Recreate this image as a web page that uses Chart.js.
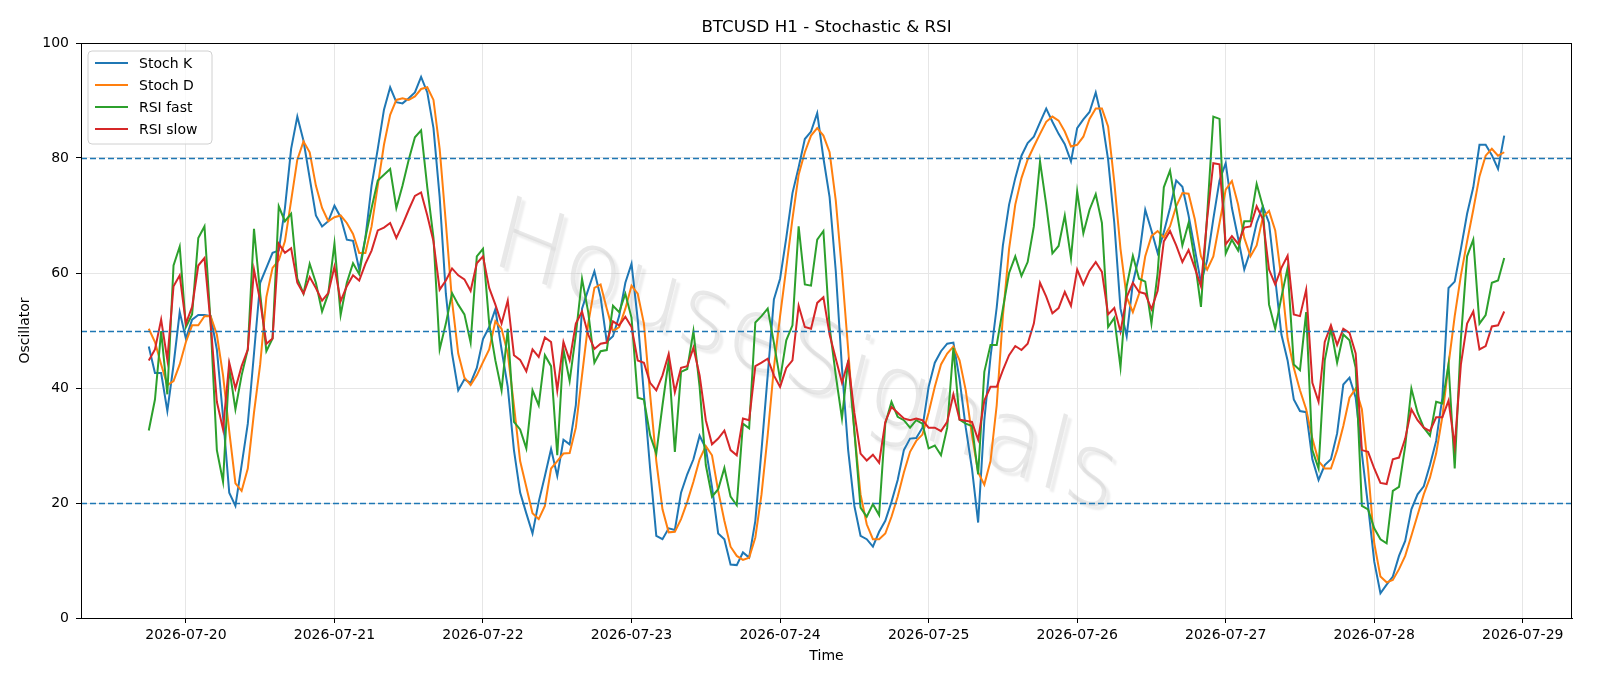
<!DOCTYPE html>
<html>
<head>
<meta charset="utf-8">
<script src="https://cdn.jsdelivr.net/npm/chart.js@4.4.1/dist/chart.umd.min.js"></script>
<style>
  html, body { margin: 0; padding: 0; background: #fff; }
  #wrap { width: 1600px; height: 686px; }
</style>
</head>
<body>
<div id="wrap"><canvas id="osc" width="1600" height="686"></canvas></div>
<script>
// hourly bars, first one at 2026-07-19 18:00 (hour -6 relative to 2026-07-20 00:00)
const FIRST_HOUR = -6;
const dateTicks = ['2026-07-20', '2026-07-21', '2026-07-22', '2026-07-23', '2026-07-24',
                   '2026-07-25', '2026-07-26', '2026-07-27', '2026-07-28', '2026-07-29'];
const yTicks = [0, 20, 40, 60, 80, 100];
const levels = [20, 50, 80];

const stochK = [
  47.2, 42.6, 42.6, 36.0, 44.0, 53.2, 48.6, 51.9, 52.7, 52.7,
  52.5, 46.7, 35.0, 21.8, 19.5, 26.6, 33.8, 46.0, 58.3, 60.9,
  63.5, 63.9, 71.3, 81.6, 87.2, 83.0, 76.5, 70.0, 68.1, 69.0,
  71.7, 69.7, 65.8, 65.6, 60.6, 66.1, 75.2, 81.6, 88.4, 92.3,
  89.7, 89.5, 90.4, 91.4, 94.1, 91.4, 85.2, 73.2, 56.4, 46.0,
  39.6, 41.5, 40.9, 43.5, 48.5, 50.6, 53.7, 46.7, 40.2, 29.2,
  21.8, 18.2, 14.7, 20.2, 24.7, 29.4, 24.7, 31.0, 30.2, 37.0,
  53.8, 57.1, 60.3, 55.8, 48.0, 49.0, 52.5, 58.3, 61.6, 51.9,
  38.9, 26.0, 14.3, 13.7, 15.6, 15.3, 21.8, 25.0, 27.6, 31.7,
  29.5, 22.8, 14.7, 13.7, 9.3, 9.2, 11.4, 10.5, 16.9, 29.2,
  42.2, 55.4, 59.0, 66.1, 73.9, 78.4, 83.3, 84.6, 87.8, 80.0,
  73.2, 60.3, 43.5, 29.2, 19.5, 14.3, 13.7, 12.4, 15.0, 16.9,
  20.2, 24.0, 29.2, 31.2, 31.3, 33.1, 40.2, 44.4, 46.4, 47.7,
  47.9, 41.5, 33.1, 26.0, 16.6, 34.4, 45.4, 54.0, 64.8, 71.9,
  76.5, 80.4, 82.6, 83.7, 86.2, 88.6, 86.3, 84.2, 82.4, 79.4,
  85.2, 86.7, 88.0, 91.4, 86.8, 79.7, 68.7, 53.8, 49.0, 58.3,
  62.9, 71.0, 67.4, 63.5, 67.1, 71.3, 76.1, 75.0, 70.0, 64.2,
  58.3, 62.2, 69.4, 76.1, 79.1, 71.3, 66.1, 60.6, 63.9, 68.7,
  71.6, 68.7, 59.0, 49.3, 44.8, 38.0, 36.0, 35.8, 27.6, 24.0,
  26.6, 27.6, 32.1, 40.6, 41.8, 38.3, 28.6, 19.5, 9.8, 4.3,
  5.8, 7.2, 10.8, 13.4, 18.9, 21.5, 22.9, 26.6, 30.8, 38.3,
  57.4, 58.5, 64.2, 70.3, 74.9, 82.3, 82.3, 80.5, 78.1, 83.9
];

const stochD = [
  50.3, 48.0, 44.1, 40.5, 41.2, 44.1, 48.0, 50.9, 50.9, 52.5,
  52.5, 49.3, 42.2, 32.5, 23.4, 22.1, 26.0, 35.7, 44.1, 55.8,
  60.9, 62.2, 65.5, 72.6, 79.7, 82.9, 81.0, 75.2, 71.3, 69.0,
  69.7, 70.0, 68.7, 66.8, 63.5, 63.5, 68.1, 75.2, 82.3, 87.5,
  90.1, 90.4, 90.1, 90.7, 92.0, 92.3, 90.1, 81.6, 68.7, 55.1,
  46.0, 41.8, 40.5, 42.2, 44.5, 46.7, 51.6, 50.3, 46.0, 37.0,
  27.3, 22.8, 18.2, 17.2, 19.5, 26.0, 27.3, 28.6, 28.7, 33.1,
  42.2, 51.2, 57.4, 58.0, 53.8, 49.9, 50.6, 53.8, 57.8, 56.4,
  51.2, 38.9, 27.3, 18.9, 14.9, 15.0, 17.2, 20.2, 23.7, 27.6,
  29.9, 28.3, 22.1, 16.9, 12.4, 10.8, 10.1, 10.5, 14.0, 21.5,
  31.8, 43.5, 52.5, 60.9, 69.4, 77.1, 81.0, 83.9, 85.2, 83.9,
  81.0, 72.6, 60.3, 46.7, 32.5, 21.5, 16.3, 13.7, 13.7, 14.7,
  17.6, 21.1, 25.3, 28.9, 30.8, 31.9, 35.7, 40.2, 44.1, 46.0,
  47.2, 44.8, 39.6, 31.8, 25.3, 23.2, 27.3, 37.0, 52.5, 64.2,
  71.9, 76.5, 79.7, 82.0, 84.2, 86.3, 87.2, 86.5, 84.6, 82.0,
  82.3, 83.7, 86.8, 88.6, 88.6, 85.5, 75.8, 64.2, 55.8, 53.2,
  56.4, 62.9, 66.4, 67.3, 66.2, 68.1, 71.6, 73.9, 73.8, 69.4,
  62.9, 60.6, 62.9, 68.7, 74.5, 76.0, 71.9, 66.1, 62.9, 64.8,
  69.7, 70.8, 67.4, 59.0, 48.6, 43.5, 39.6, 36.3, 31.2, 27.3,
  26.0, 26.0, 29.2, 33.4, 38.3, 39.9, 36.3, 26.0, 13.0, 7.2,
  6.2, 6.6, 8.5, 10.8, 14.3, 17.9, 21.5, 24.4, 28.6, 35.0,
  44.1, 52.5, 59.6, 65.5, 71.0, 76.8, 80.4, 81.6, 80.4, 81.0
];

const rsiFast = [
  32.6, 38.0, 49.9, 38.9, 61.3, 64.6, 50.6, 52.8, 66.1, 68.1,
  51.2, 29.2, 23.7, 43.5, 36.3, 42.2, 46.7, 67.7, 56.4, 46.4,
  48.6, 71.6, 69.0, 70.3, 59.0, 56.4, 61.6, 58.3, 53.3, 56.4,
  65.1, 52.7, 58.3, 61.7, 59.8, 66.1, 71.3, 76.1, 77.1, 78.1,
  71.3, 75.2, 79.7, 83.6, 84.8, 74.9, 66.1, 46.7, 51.2, 56.5,
  54.5, 52.8, 47.9, 62.9, 64.2, 51.2, 44.8, 39.6, 50.3, 34.1,
  32.8, 29.5, 39.6, 37.0, 45.7, 43.8, 28.3, 46.7, 41.2, 49.3,
  59.0, 53.2, 44.4, 46.4, 46.6, 54.3, 53.2, 56.4, 52.2, 38.3,
  38.0, 31.8, 28.6, 37.0, 44.8, 28.9, 42.8, 43.3, 49.9, 40.2,
  26.6, 21.1, 22.4, 26.1, 21.1, 19.6, 33.8, 33.0, 51.4, 52.5,
  53.8, 47.9, 41.5, 48.3, 50.9, 68.1, 58.0, 57.8, 65.8, 67.3,
  50.6, 42.2, 34.7, 44.8, 32.5, 19.2, 17.6, 19.8, 17.9, 33.8,
  37.6, 35.0, 34.4, 33.1, 34.4, 33.8, 29.5, 30.0, 28.3, 33.1,
  47.0, 34.5, 33.8, 33.4, 25.0, 42.8, 47.5, 47.5, 53.8, 60.0,
  62.9, 59.5, 61.9, 68.1, 79.4, 71.9, 63.4, 64.7, 70.0, 62.6,
  74.2, 66.9, 71.0, 73.7, 68.7, 50.6, 52.2, 43.6, 57.7, 63.0,
  59.0, 58.5, 51.2, 60.0, 74.9, 77.8, 71.3, 64.8, 68.7, 62.2,
  54.1, 70.0, 87.2, 86.8, 63.4, 65.8, 63.9, 69.0, 69.0, 75.5,
  71.6, 54.5, 50.3, 55.8, 60.9, 44.1, 43.1, 53.2, 29.2, 26.0,
  44.8, 50.3, 44.4, 49.3, 48.3, 43.5, 19.5, 18.9, 15.6, 13.7,
  13.0, 22.1, 22.8, 29.9, 39.9, 35.7, 33.1, 31.7, 37.6, 37.3,
  44.1, 26.0, 48.6, 62.9, 65.8, 51.2, 52.7, 58.3, 58.7, 62.6
];

const rsiSlow = [
  44.8, 46.7, 51.9, 44.9, 57.7, 59.6, 51.2, 54.1, 61.3, 62.6,
  51.2, 37.6, 32.8, 44.4, 39.9, 43.8, 46.7, 60.6, 55.1, 47.7,
  48.6, 65.1, 63.5, 64.3, 58.3, 56.4, 59.3, 57.4, 55.2, 56.5,
  61.1, 55.1, 57.7, 59.6, 58.7, 61.6, 63.9, 67.4, 67.9, 68.7,
  66.1, 68.4, 71.0, 73.4, 74.0, 70.0, 65.5, 57.1, 58.7, 60.8,
  59.6, 58.9, 56.9, 61.7, 62.9, 57.4, 54.5, 51.2, 55.2, 45.7,
  44.9, 42.9, 46.7, 45.4, 48.8, 48.0, 39.6, 48.0, 44.8, 51.2,
  53.3, 49.3, 46.8, 47.7, 47.9, 51.6, 50.9, 52.4, 50.6, 44.8,
  44.4, 40.9, 39.6, 42.2, 45.9, 39.3, 43.5, 43.8, 47.0, 42.2,
  34.4, 30.2, 31.2, 32.6, 29.2, 28.3, 34.7, 34.4, 43.8, 44.4,
  45.1, 42.2, 40.2, 43.5, 44.8, 54.3, 50.6, 50.3, 54.8, 55.8,
  49.3, 45.1, 40.9, 44.6, 35.7, 28.6, 27.4, 28.4, 27.0, 34.1,
  36.7, 35.7, 34.7, 34.4, 34.7, 34.4, 33.1, 33.1, 32.5, 34.1,
  38.9, 34.5, 34.3, 34.1, 31.0, 37.8, 40.2, 40.2, 43.1, 45.7,
  47.3, 46.6, 47.7, 51.2, 58.3, 55.9, 53.0, 53.9, 56.7, 54.3,
  60.6, 58.0, 60.4, 61.9, 60.2, 52.8, 53.9, 49.8, 55.8, 58.3,
  56.7, 56.4, 53.7, 56.9, 65.5, 67.3, 64.8, 61.9, 64.0, 60.9,
  57.7, 69.4, 79.1, 78.9, 65.0, 66.4, 65.1, 67.9, 68.1, 71.6,
  69.4, 60.6, 58.0, 60.9, 63.0, 52.8, 52.5, 57.1, 40.9, 37.6,
  48.0, 50.9, 47.5, 50.3, 49.6, 46.0, 29.2, 28.9, 26.0, 23.5,
  23.3, 27.6, 27.9, 31.2, 36.3, 34.4, 33.1, 32.5, 34.9, 34.9,
  37.8, 29.9, 44.1, 51.2, 53.3, 46.7, 47.3, 50.7, 50.9, 53.3
];

const FONT = 'DejaVu Sans, sans-serif';
const COLORS = { k: '#1f77b4', d: '#ff7f0e', fast: '#2ca02c', slow: '#d62728' };

const toPoints = (arr) => arr.map((y, i) => ({ x: FIRST_HOUR + i, y }));

const series = [
  { label: 'Stoch K', data: stochK, color: COLORS.k },
  { label: 'Stoch D', data: stochD, color: COLORS.d },
  { label: 'RSI fast', data: rsiFast, color: COLORS.fast },
  { label: 'RSI slow', data: rsiSlow, color: COLORS.slow },
];

// titles, watermark, level lines, legend and the closed frame
const decor = {
  id: 'decor',
  beforeDatasetsDraw(chart) {
    const { ctx, chartArea: a } = chart;
    ctx.save();
    ctx.beginPath();
    ctx.rect(a.left, a.top, a.right - a.left, a.bottom - a.top);
    ctx.clip();
    const ang = 22 * Math.PI / 180, sl = 14 * Math.PI / 180;
    ctx.setTransform(Math.cos(ang), Math.sin(ang), -Math.sin(sl), Math.cos(sl), 805, 362);
    ctx.font = '200 100px ' + FONT;
    ctx.textAlign = 'center';
    ctx.textBaseline = 'middle';
    ctx.shadowColor = 'rgba(0,0,0,0.16)';
    ctx.shadowOffsetX = 4;
    ctx.shadowOffsetY = 4;
    ctx.shadowBlur = 2;
    ctx.fillStyle = 'rgba(205,205,205,0.45)';
    ctx.fillText('HouseSignals', 0, 0);
    ctx.restore();
  },
  afterDatasetsDraw(chart) {
    const { ctx, chartArea: a, scales: { y } } = chart;
    ctx.save();
    ctx.strokeStyle = COLORS.k;
    ctx.lineWidth = 1.5;
    ctx.setLineDash([6, 3]);
    levels.forEach(v => {
      const py = Math.round(y.getPixelForValue(v)) + 0.5;
      ctx.beginPath();
      ctx.moveTo(a.left, py);
      ctx.lineTo(a.right, py);
      ctx.stroke();
    });
    ctx.restore();
  },
  afterDraw(chart) {
    const { ctx, chartArea: a } = chart;
    ctx.save();
    // frame
    ctx.strokeStyle = '#000';
    ctx.lineWidth = 1;
    ctx.strokeRect(a.left + 0.5, a.top + 0.5, a.right - a.left - 1, a.bottom - a.top);

    ctx.fillStyle = '#000';
    ctx.textAlign = 'center';
    ctx.textBaseline = 'middle';
    ctx.font = '16.7px ' + FONT;
    ctx.fillText('BTCUSD H1 - Stochastic & RSI', (a.left + a.right) / 2, 27.5);
    ctx.font = '14px ' + FONT;
    ctx.fillText('Time', (a.left + a.right) / 2, 656);
    ctx.save();
    ctx.translate(25, (a.top + a.bottom) / 2);
    ctx.rotate(-Math.PI / 2);
    ctx.fillText('Oscillator', 0, 0);
    ctx.restore();

    // legend box, upper left
    const bx = 88, by = 51, bw = 124, bh = 93, r = 4;
    ctx.beginPath();
    ctx.moveTo(bx + r, by);
    ctx.arcTo(bx + bw, by, bx + bw, by + bh, r);
    ctx.arcTo(bx + bw, by + bh, bx, by + bh, r);
    ctx.arcTo(bx, by + bh, bx, by, r);
    ctx.arcTo(bx, by, bx + bw, by, r);
    ctx.closePath();
    ctx.fillStyle = 'rgba(255,255,255,0.8)';
    ctx.fill();
    ctx.strokeStyle = '#d0d0d0';
    ctx.stroke();
    ctx.textAlign = 'left';
    series.forEach((s, i) => {
      const ly = 63 + i * 22;
      ctx.strokeStyle = s.color;
      ctx.lineWidth = 2;
      ctx.beginPath();
      ctx.moveTo(95, ly);
      ctx.lineTo(128, ly);
      ctx.stroke();
      ctx.fillStyle = '#000';
      ctx.fillText(s.label, 139, ly + 1);
    });
    ctx.restore();
  },
};

new Chart(document.getElementById('osc'), {
  type: 'line',
  data: {
    datasets: series.map((s, i) => ({
      label: s.label,
      data: toPoints(s.data),
      borderColor: s.color,
      backgroundColor: s.color,
      borderWidth: 2,
      pointRadius: 0,
      tension: 0,
      fill: false,
      order: series.length - i,
    })),
  },
  options: {
    responsive: false,
    animation: false,
    devicePixelRatio: 1,
    layout: { padding: { top: 43, right: 28, left: 0, bottom: 0 } },
    plugins: { legend: { display: false }, tooltip: { enabled: false }, title: { display: false } },
    scales: {
      x: {
        type: 'linear',
        min: -16.95,
        max: 223.95,
        afterBuildTicks: (scale) => { scale.ticks = dateTicks.map((_, i) => ({ value: i * 24 })); },
        afterFit: (scale) => { scale.height = 68; },
        ticks: {
          callback: (v) => dateTicks[Math.round(v / 24)],
          font: { family: FONT, size: 14 },
          color: '#000',
          maxRotation: 0,
          autoSkip: false,
          padding: 4,
        },
        grid: { color: '#e6e6e6', lineWidth: 1, tickColor: '#000', tickLength: 5 },
        border: { color: '#000', width: 1 },
      },
      y: {
        min: 0,
        max: 100,
        afterBuildTicks: (scale) => { scale.ticks = yTicks.map(v => ({ value: v })); },
        afterFit: (scale) => { scale.width = 81; },
        ticks: { font: { family: FONT, size: 14 }, color: '#000', padding: 7 },
        grid: { color: '#e6e6e6', lineWidth: 1, tickColor: '#000', tickLength: 5 },
        border: { color: '#000', width: 1 },
      },
    },
  },
  plugins: [decor],
});
</script>
</body>
</html>
